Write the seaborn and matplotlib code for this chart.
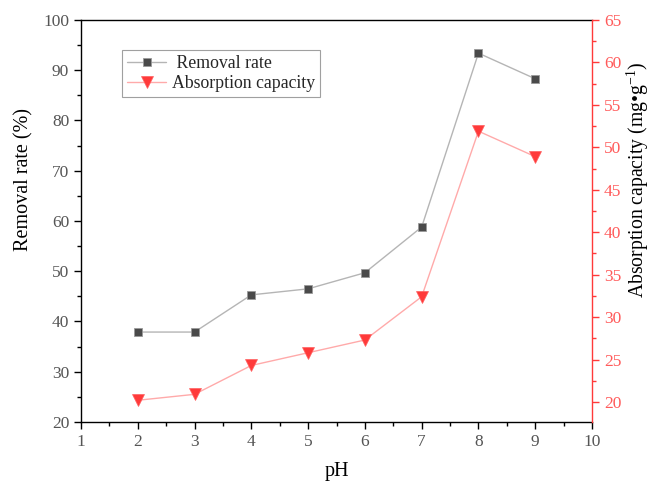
import matplotlib
matplotlib.use("Agg")
import matplotlib.pyplot as plt
from matplotlib.ticker import MultipleLocator
from matplotlib.lines import Line2D
import seaborn as sns
import pandas as pd

ph = [2, 3, 4, 5, 6, 7, 8, 9]
removal_rate = [37.9, 37.9, 45.3, 46.5, 49.7, 58.8, 93.4, 88.3]
absorption_capacity = [20.2, 20.9, 24.3, 25.8, 27.3, 32.4, 51.9, 48.9]

df = pd.DataFrame({"pH": ph, "removal": removal_rate, "capacity": absorption_capacity})

sns.set_theme(style="white")
plt.rcParams["font.family"] = ["Liberation Serif", "DejaVu Serif"]
plt.rcParams["mathtext.fontset"] = "custom"
plt.rcParams["mathtext.rm"] = "Liberation Serif"
plt.rcParams["mathtext.it"] = "Liberation Serif:italic"
plt.rcParams["mathtext.default"] = "rm"

RED = "#ff3a3a"
TICK_GREY = "#555555"

fig = plt.figure(figsize=(6.51, 4.84), dpi=100)
ax = fig.add_axes([0.1244, 0.1281, 0.7850, 0.8306])
ax2 = ax.twinx()

sns.lineplot(data=df, x="pH", y="removal", ax=ax, color="#b5b5b5", lw=1.0,
             marker="s", markersize=6, markerfacecolor="#4a4a4a",
             markeredgecolor="#9a9a9a", markeredgewidth=0.6)
sns.lineplot(data=df, x="pH", y="capacity", ax=ax2, color="#ffaaaa", lw=1.0,
             marker="v", markersize=8, markerfacecolor=RED,
             markeredgecolor="#ff6060", markeredgewidth=0.5)

ax.set_xlim(1, 10)
ax.set_ylim(20, 100)
ax2.set_ylim(17.64, 65)

ax.xaxis.set_major_locator(MultipleLocator(1))
ax.xaxis.set_minor_locator(MultipleLocator(0.5))
ax.yaxis.set_major_locator(MultipleLocator(10))
ax.yaxis.set_minor_locator(MultipleLocator(5))
ax2.yaxis.set_major_locator(MultipleLocator(5))
ax2.yaxis.set_minor_locator(MultipleLocator(2.5))

for s in ["left", "bottom", "top"]:
    ax.spines[s].set_color("black")
    ax.spines[s].set_linewidth(1.0)
ax.spines["right"].set_visible(False)
for s in ["left", "bottom", "top"]:
    ax2.spines[s].set_visible(False)
ax2.spines["right"].set_color(RED)
ax2.spines["right"].set_linewidth(1.0)

ax.tick_params(axis="both", which="major", direction="out", length=5, width=1,
               color="black", labelcolor=TICK_GREY, labelsize=12.5,
               bottom=True, left=True, top=False, right=False)
ax.tick_params(axis="both", which="minor", direction="out", length=3, width=1,
               color="black", bottom=True, left=True, top=False, right=False)
ax2.tick_params(axis="y", which="major", direction="out", length=5, width=1,
                color=RED, labelcolor="#ff5a5a", labelsize=12.5)
ax2.tick_params(axis="y", which="minor", direction="out", length=3, width=1,
                color=RED)

ax.set_xlabel("pH", fontsize=14.5, color="black", labelpad=9)
ax.set_ylabel("Removal rate (%)", fontsize=14.5, color="black")
ax2.set_ylabel("Absorption capacity (mg\u2022g$^{-1}$)", fontsize=14.2,
               color="black")
ax.yaxis.set_label_coords(-0.093, 0.602)
ax2.yaxis.set_label_coords(1.065, 0.602)

handles = [
    Line2D([], [], color="#b5b5b5", lw=1.0, marker="s", markersize=6,
           markerfacecolor="#4a4a4a", markeredgecolor="#9a9a9a",
           markeredgewidth=0.6),
    Line2D([], [], color="#ffaaaa", lw=1.0, marker="v", markersize=8,
           markerfacecolor=RED, markeredgecolor="#ff6060", markeredgewidth=0.5),
]
leg = ax.legend(handles, [" Removal rate", "Absorption capacity"],
                loc="upper left", bbox_to_anchor=(0.08, 0.925), fontsize=12.8,
                frameon=True, fancybox=False, edgecolor="#888888",
                borderpad=0.3, handlelength=2.2, handletextpad=0.3,
                labelspacing=0.15, borderaxespad=0)
leg.get_frame().set_linewidth(0.8)

fig.savefig("out.png", dpi=100)
